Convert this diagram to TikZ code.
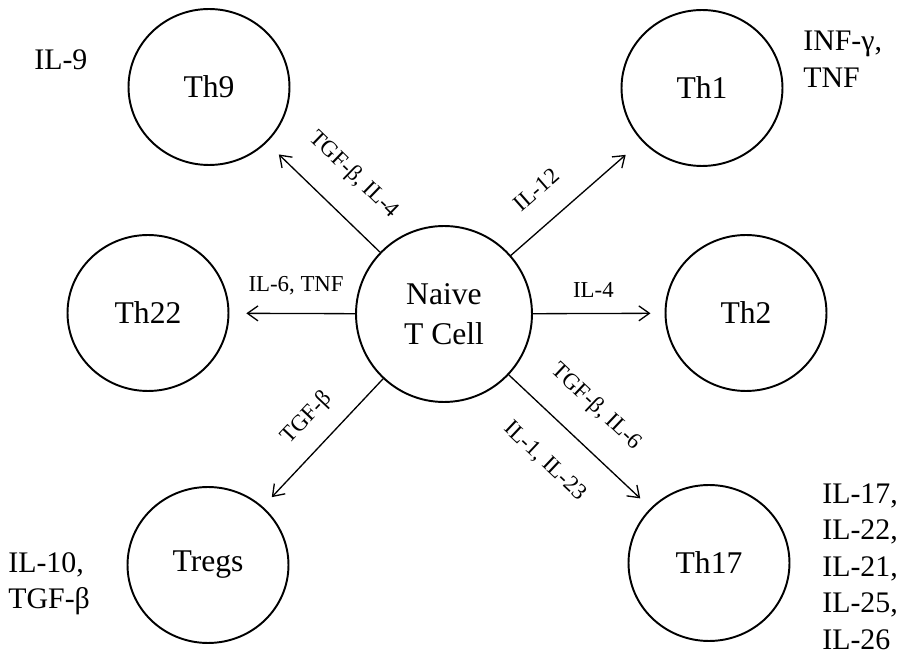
\documentclass[tikz,border=0pt]{standalone}
\usepackage{fontspec}
\setmainfont{Liberation Serif}
\usetikzlibrary{shapes.geometric,arrows.meta}

\begin{document}
\begin{tikzpicture}[x=0.02cm, y=-0.02cm,
    cell/.style={draw, ellipse, line width=1.1pt, inner sep=0pt, minimum width=3.22cm, minimum height=3.12cm, font=\fontsize{18}{21}\selectfont},
    naive/.style={cell, minimum width=3.52cm, minimum height=3.52cm, align=center, font=\fontsize{18}{22.5}\selectfont},
    cyto/.style={font=\fontsize{13}{15.5}\selectfont, sloped, inner sep=0pt},
    secr/.style={font=\fontsize{17}{20.8}\selectfont, align=left, inner sep=0pt},
    conv/.style={-{Straight Barb[length=6pt,width=8.5pt]}, line width=0.75pt}]
    \useasboundingbox (0,0) rectangle (907,658);
    \node[naive] (nv) at (444,314) {Naive\\T Cell};
    \node[cell] (th9) at (209,87) {Th9};
    \node[cell] (th1) at (702,88) {Th1};
    \node[cell] (th22) at (148,313) {Th22};
    \node[cell] (th2) at (746,313) {Th2};
    \node[cell] (treg) at (208,565) {Tregs};
    \node[cell] (th17) at (709,563) {Th17};
    \node[secr, anchor=base west] (s9) at (34,70) {IL-9};
    \node[secr, anchor=north west] (s1) at (803,31) {INF-γ,\\TNF};
    \node[secr, anchor=north west] (sreg) at (8,552) {IL-10,\\TGF-β};
    \node[secr, anchor=north west] (s17) at (822,483) {IL-17,\\IL-22,\\IL-21,\\IL-25,\\IL-26};
    \draw [conv, shorten >=9.6pt] (nv) -- node[cyto, pos=0.46, above=15pt] {TGF-β, IL-4} (th9);
    \draw [conv, shorten >=12pt] (nv) -- node[cyto, pos=0.36, above=14pt] {IL-12} (th1);
    \draw [conv, shorten >=9.6pt] (nv) -- node[cyto, pos=0.47, above=10pt] {IL-6, TNF} (th22);
    \draw [conv, shorten >=8pt] (nv) -- node[cyto, pos=0.46, above=9pt] {IL-4} (th2);
    \draw [conv, shorten >=7.4pt] (nv) -- node[cyto, pos=0.46, above=10pt] {TGF-β} (treg);
    \draw [conv, shorten >=8pt] (nv) -- node[cyto, pos=0.44, above=14.5pt] {TGF-β, IL-6}
        node[cyto, pos=0.44, below=16pt] {IL-1, IL-23} (th17);
\end{tikzpicture}
\end{document}
